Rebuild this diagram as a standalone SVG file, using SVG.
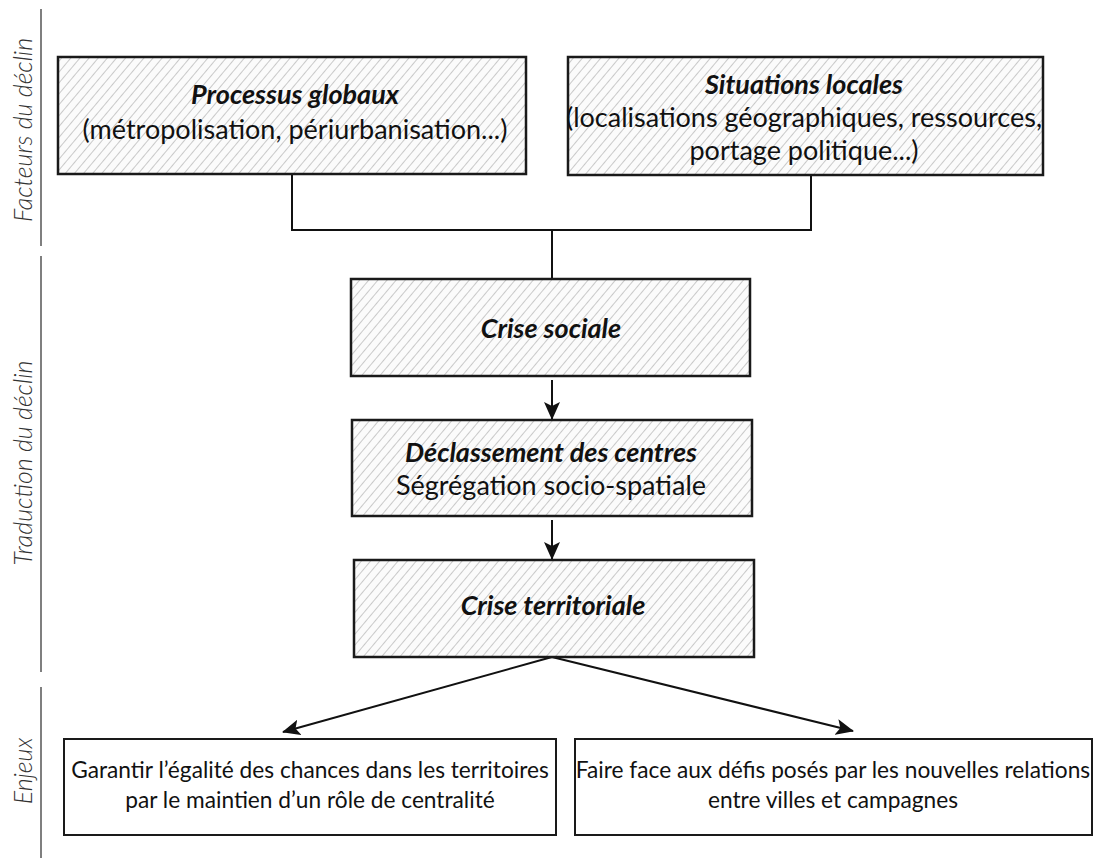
<svg xmlns="http://www.w3.org/2000/svg" width="1098" height="863" viewBox="0 0 1098 863">
<defs>
<pattern id="hatch" patternUnits="userSpaceOnUse" width="7" height="7" patternTransform="rotate(40)">
<rect width="7" height="7" fill="#fbfbfb"/>
<line x1="0" y1="0" x2="0" y2="7" stroke="#8c8c8c" stroke-width="0.9"/>
</pattern>
<marker id="arr" viewBox="0 0 18 16" refX="17" refY="8" markerWidth="18" markerHeight="16" markerUnits="userSpaceOnUse" orient="auto">
<path d="M0,0 L18,8 L0,16 L4,8 z" fill="#111"/>
</marker>
</defs>
<style>
.hbox{fill:url(#hatch);stroke:#1a1a1a;stroke-width:2.5}
.box{fill:#fff;stroke:#1a1a1a;stroke-width:2}
.t{font-family:Lato,"Open Sans",sans-serif;font-size:27px;fill:#111;text-anchor:middle}
.s{font-size:22.7px}
.b{font-weight:bold;font-style:italic}
.side{font-family:Lato,"Open Sans",sans-serif;font-size:25px;font-style:italic;font-weight:300;fill:#333;text-anchor:middle}
.sep{stroke:#555;stroke-width:1.5}
.c{fill:none;stroke:#111;stroke-width:2}
</style>
<rect width="1098" height="863" fill="#fff"/>
<g id="sidebar">
<line class="sep" x1="41" y1="9" x2="41" y2="246"/>
<line class="sep" x1="41" y1="256" x2="41" y2="672"/>
<line class="sep" x1="41" y1="687" x2="41" y2="858"/>
<text class="side" transform="translate(32,130) rotate(-90)">Facteurs du déclin</text>
<text class="side" transform="translate(32,463) rotate(-90)">Traduction du déclin</text>
<text class="side" transform="translate(32,771) rotate(-90)">Enjeux</text>
</g>
<g id="connectors">
<polyline class="c" points="292,174 292,230 811,230 811,175"/>
<line class="c" x1="552" y1="230" x2="552" y2="279"/>
<line class="c" x1="552" y1="380" x2="552" y2="419" marker-end="url(#arr)"/>
<line class="c" x1="552" y1="520" x2="552" y2="559" marker-end="url(#arr)"/>
<line class="c" x1="552" y1="657" x2="283" y2="732" marker-end="url(#arr)"/>
<line class="c" x1="552" y1="657" x2="853" y2="731" marker-end="url(#arr)"/>
</g>
<g id="processus">
<rect class="hbox" x="58" y="57" width="468" height="117"/>
<text class="t b" x="295" y="104">Processus globaux</text>
<text class="t" x="295" y="139">(métropolisation, périurbanisation...)</text>
</g>
<g id="situations">
<rect class="hbox" x="568" y="57" width="475" height="118"/>
<text class="t b" x="804" y="94">Situations locales</text>
<text class="t" x="804" y="127">(localisations géographiques, ressources,</text>
<text class="t" x="804" y="160">portage politique...)</text>
</g>
<g id="crise-sociale">
<rect class="hbox" x="351" y="279" width="399" height="97"/>
<text class="t b" x="551" y="338">Crise sociale</text>
</g>
<g id="declassement">
<rect class="hbox" x="352" y="420" width="400" height="96"/>
<text class="t b" x="551" y="462">Déclassement des centres</text>
<text class="t" x="551" y="495">Ségrégation socio-spatiale</text>
</g>
<g id="crise-territoriale">
<rect class="hbox" x="354" y="560" width="400" height="97"/>
<text class="t b" x="553" y="615">Crise territoriale</text>
</g>
<g id="garantir">
<rect class="box" x="64" y="739" width="492" height="96"/>
<text class="t s" x="310" y="778">Garantir l’égalité des chances dans les territoires</text>
<text class="t s" x="310" y="808">par le maintien d’un rôle de centralité</text>
</g>
<g id="faire-face">
<rect class="box" x="575" y="739" width="517" height="96"/>
<text class="t s" x="833" y="778">Faire face aux défis posés par les nouvelles relations</text>
<text class="t s" x="833" y="808">entre villes et campagnes</text>
</g>
</svg>
